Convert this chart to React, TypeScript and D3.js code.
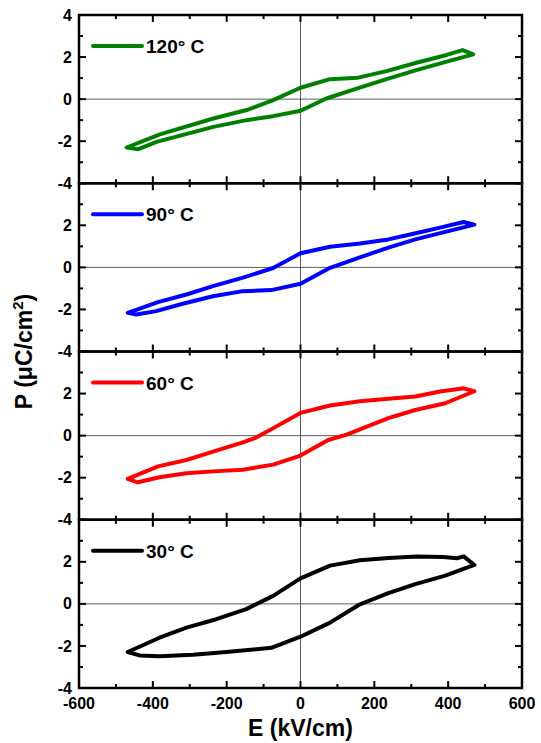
import React, { useEffect, useRef } from 'react';
import * as d3 from 'd3';

// legend labels and colours, top panel first
const labels = ['120° C', '90° C', '60° C', '30° C'];
const colors = ['#008000', '#0000ff', '#ff0000', '#000000'];

// E (kV/cm) and P (µC/cm²) round each loop
const e120 = [468, 439, 396, 314, 233, 156, 80, 0, -74, -146, -236, -381, -471, -439, -390, -236, -146, -74, 0, 70, 152, 233, 314, 396, 468];
const p120 = [2.13, 2.33, 2.1, 1.73, 1.33, 1.02, 0.95, 0.54, -0.05, -0.52, -0.92, -1.68, -2.3, -2.38, -2.03, -1.32, -1.0, -0.81, -0.55, 0.03, 0.5, 0.95, 1.38, 1.78, 2.13];

const e90 = [471, 442, 378, 306, 238, 161, 80, 0, -74, -156, -237, -309, -386, -468, -445, -391, -319, -237, -156, -79, 0, 80, 161, 238, 311, 471];
const p90 = [2.03, 2.16, 1.89, 1.6, 1.33, 1.14, 0.98, 0.67, -0.03, -0.49, -0.89, -1.29, -1.65, -2.16, -2.24, -2.08, -1.73, -1.37, -1.13, -1.08, -0.78, -0.02, 0.48, 0.94, 1.33, 2.03];

const e60 = [471, 442, 378, 311, 238, 161, 80, 0, -65, -119, -156, -237, -309, -386, -468, -441, -382, -309, -237, -156, -74, 0, 75, 125, 238, 311, 392, 471];
const p60 = [2.11, 2.25, 2.1, 1.86, 1.75, 1.63, 1.43, 1.08, 0.44, -0.08, -0.32, -0.76, -1.16, -1.46, -2.06, -2.22, -1.98, -1.79, -1.7, -1.62, -1.38, -0.95, -0.21, 0.05, 0.83, 1.22, 1.54, 2.11];

const e30 = [471, 442, 424, 387, 315, 238, 161, 80, 0, -74, -147, -228, -309, -382, -468, -436, -382, -291, -201, -79, 0, 80, 161, 238, 311, 392, 471];
const p30 = [1.85, 2.26, 2.17, 2.23, 2.25, 2.18, 2.07, 1.82, 1.21, 0.38, -0.25, -0.73, -1.13, -1.61, -2.29, -2.45, -2.49, -2.42, -2.29, -2.09, -1.56, -0.89, -0.02, 0.51, 0.94, 1.34, 1.85];

const eSeries = [e120, e90, e60, e30];
const pSeries = [p120, p90, p60, p30];

const xTicks = [-600, -400, -200, 0, 200, 400, 600];
const xMinor = [-500, -300, -100, 100, 300, 500];
const yTicks = [-4, -2, 0, 2, 4];
const yMinor = [-3, -1, 1, 3];

const App = () => {
  const svgRef = useRef<SVGSVGElement>(null);

  useEffect(() => {
    const width = 541;
    const height = 743;
    const left = 79;
    const right = 522;
    const top = 15;
    const panelH = 168.25;
    const font = 'Liberation Sans, Arial, sans-serif';

    const svg = d3.select(svgRef.current);
    svg.selectAll('*').remove();
    svg.attr('width', width).attr('height', height);

    const x = d3.scaleLinear().domain([-600, 600]).range([left, right]);

    labels.forEach((label, i) => {
      const y0 = top + i * panelH;
      const y = d3.scaleLinear().domain([-4, 4]).range([y0 + panelH, y0]);
      const g = svg.append('g');

      // zero lines
      g.append('line')
        .attr('x1', left).attr('x2', right)
        .attr('y1', y(0)).attr('y2', y(0))
        .attr('stroke', '#333').attr('stroke-width', 0.8);
      g.append('line')
        .attr('x1', x(0)).attr('x2', x(0))
        .attr('y1', y(-4)).attr('y2', y(4))
        .attr('stroke', '#333').attr('stroke-width', 0.8);

      // loop
      const pts: [number, number][] = eSeries[i].map((e, k) => [e, pSeries[i][k]]);
      const line = d3.line<[number, number]>()
        .x(d => x(d[0]))
        .y(d => y(d[1]))
        .curve(d3.curveLinearClosed);
      g.append('path')
        .attr('d', line(pts))
        .attr('fill', 'none')
        .attr('stroke', colors[i])
        .attr('stroke-width', 4)
        .attr('stroke-linejoin', 'round');

      // ticks, inward on all sides
      const tickG = g.append('g').attr('stroke', '#000').attr('stroke-width', 2);
      const xt = [...xTicks.map(v => [v, 7]), ...xMinor.map(v => [v, 4])];
      xt.forEach(([v, len]) => {
        tickG.append('line').attr('x1', x(v)).attr('x2', x(v))
          .attr('y1', y(-4)).attr('y2', y(-4) - len);
        tickG.append('line').attr('x1', x(v)).attr('x2', x(v))
          .attr('y1', y(4)).attr('y2', y(4) + len);
      });
      const yt = [...yTicks.map(v => [v, 7]), ...yMinor.map(v => [v, 4])];
      yt.forEach(([v, len]) => {
        tickG.append('line').attr('x1', left).attr('x2', left + len)
          .attr('y1', y(v)).attr('y2', y(v));
        tickG.append('line').attr('x1', right).attr('x2', right - len)
          .attr('y1', y(v)).attr('y2', y(v));
      });

      // y tick labels
      yTicks.filter(v => i === 0 || v < 4).forEach(v => {
        g.append('text')
          .attr('x', left - 7)
          .attr('y', y(v))
          .attr('dy', '0.35em')
          .attr('text-anchor', 'end')
          .attr('font-family', font)
          .attr('font-weight', 'bold')
          .attr('font-size', 16)
          .text(v);
      });

      // frame
      g.append('rect')
        .attr('x', left).attr('y', y0)
        .attr('width', right - left).attr('height', panelH)
        .attr('fill', 'none')
        .attr('stroke', '#000')
        .attr('stroke-width', 2.5);

      // legend
      const ly = y0 + 31;
      g.append('line')
        .attr('x1', 93).attr('x2', 142)
        .attr('y1', ly).attr('y2', ly)
        .attr('stroke', colors[i])
        .attr('stroke-width', 4)
        .attr('stroke-linecap', 'round');
      g.append('text')
        .attr('x', 146)
        .attr('y', ly + 7)
        .attr('font-family', font)
        .attr('font-weight', 'bold')
        .attr('font-size', 19)
        .text(label);
    });

    // x tick labels on the bottom panel
    const bottom = top + 4 * panelH;
    xTicks.forEach(v => {
      svg.append('text')
        .attr('x', x(v))
        .attr('y', bottom + 21)
        .attr('text-anchor', 'middle')
        .attr('font-family', font)
        .attr('font-weight', 'bold')
        .attr('font-size', 16)
        .text(v);
    });

    svg.append('text')
      .attr('x', x(0))
      .attr('y', bottom + 48)
      .attr('text-anchor', 'middle')
      .attr('font-family', font)
      .attr('font-weight', 'bold')
      .attr('font-size', 23)
      .text('E (kV/cm)');

    const yt = svg.append('text')
      .attr('transform', `translate(32, ${top + 2 * panelH}) rotate(-90)`)
      .attr('text-anchor', 'middle')
      .attr('font-family', font)
      .attr('font-weight', 'bold')
      .attr('font-size', 23);
    yt.append('tspan').text('P (μC/cm');
    yt.append('tspan').attr('font-size', 15).attr('dy', -9).text('2');
    yt.append('tspan').attr('dy', 9).text(')');
  }, []);

  return (
    <svg ref={svgRef} style={{ position: 'absolute', left: 0, top: 0 }}></svg>
  );
};

export default App;
